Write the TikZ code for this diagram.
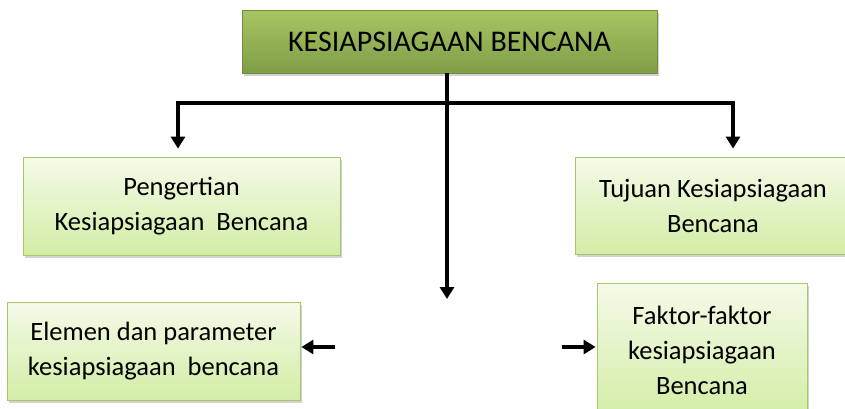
\documentclass[tikz,border=0pt]{standalone}
\usepackage{fontspec}
\setmainfont{Carlito}
\usetikzlibrary{arrows.meta,shadows,positioning}
\definecolor{oliveTop}{HTML}{A8C662}
\definecolor{oliveBot}{HTML}{7F9D47}
\definecolor{paleTop}{HTML}{F4FAE8}
\definecolor{paleBot}{HTML}{D3EDA6}
\definecolor{paleEdge}{HTML}{A6C86A}
\tikzset{
  headbox/.style={draw=oliveBot!90!black, line width=0.8pt, top color=oliveTop, bottom color=oliveBot,
    minimum width=415pt, minimum height=63pt, inner sep=0pt,
    font=\fontsize{30}{34}\selectfont,
    drop shadow={opacity=0.35, shadow xshift=2pt, shadow yshift=-3pt}},
  topicbox/.style={draw=paleEdge, line width=0.8pt, top color=paleTop, bottom color=paleBot,
    inner sep=0pt, align=center, font=\fontsize{26.5}{35}\selectfont,
    drop shadow={opacity=0.35, shadow xshift=2pt, shadow yshift=-3pt}},
  link/.style={line width=4pt, -{Triangle[width=14pt,length=12pt]}},
  bar/.style={line width=4pt}
}
\begin{document}
\begin{tikzpicture}[x=1pt,y=-1pt]
  \useasboundingbox (0,0) rectangle (845,408);
  \clip (0,0) rectangle (845,408);
  \fill[white] (0,0) rectangle (845,408);

  % main heading
  \node[headbox] (head) at (449.5,41.5) {KESIAPSIAGAAN BENCANA};

  % four topics
  \node[topicbox, minimum width=317pt, minimum height=98pt] (peng) at (181.5,206)
    {Pengertian\\Kesiapsiagaan\ \ Bencana};
  \node[topicbox, minimum width=276pt, minimum height=97pt] (tuj) at (713,205.5)
    {Tujuan Kesiapsiagaan\\Bencana};
  \node[topicbox, minimum width=293pt, minimum height=98pt] (elem) at (153.5,351)
    {Elemen dan parameter\\kesiapsiagaan\ \ bencana};
  \node[topicbox, minimum width=210pt, minimum height=134pt] (fakt) at (702,350)
    {Faktor-faktor\\kesiapsiagaan\\Bencana};

  % branching connectors
  \coordinate (fork) at (447,103);
  \coordinate (forkL) at (178,103);
  \coordinate (forkR) at (733,103);
  \coordinate (stemEnd) at (447,299);
  \coordinate (tailL) at (335,347);
  \coordinate (tailR) at (562,347);

  \draw[bar] (head.south -| fork) -- (fork);
  \draw[bar, line cap=rect] (forkL) -- (forkR);
  \draw[link] (fork) -- (stemEnd);
  \draw[link, shorten >=8pt] (forkL) -- (forkL |- peng.north);
  \draw[link, shorten >=8pt] (forkR) -- (forkR |- tuj.north);
  \draw[link, shorten >=1pt] (tailL) -- (elem.east |- tailL);
  \draw[link, shorten >=1pt] (tailR) -- (fakt.west |- tailR);
\end{tikzpicture}
\end{document}
